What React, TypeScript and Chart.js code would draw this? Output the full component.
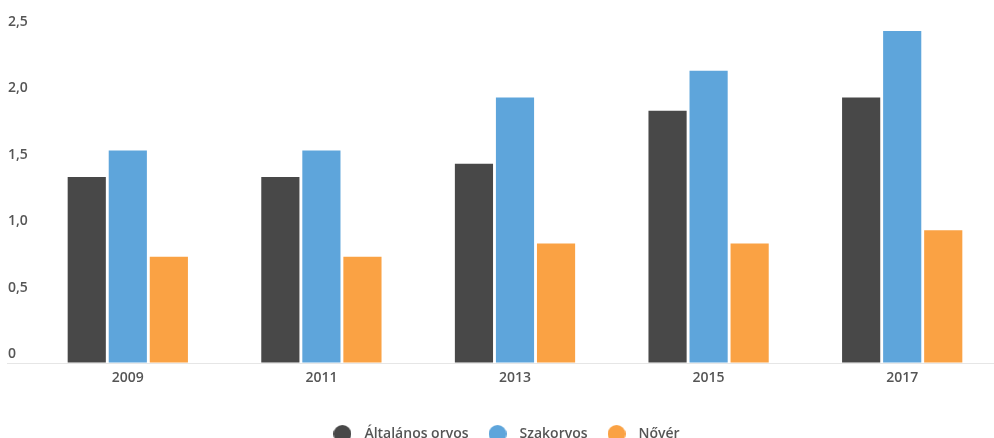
import React, { useEffect, useRef } from "react";
import { Chart, registerables } from "chart.js";

Chart.register(...registerables);

const years = ["2009", "2011", "2013", "2015", "2017"];
const generalPractitioner = [1.4, 1.4, 1.5, 1.9, 2.0];
const specialist = [1.6, 1.6, 2.0, 2.2, 2.5];
const nurse = [0.8, 0.8, 0.9, 0.9, 1.0];

const seriesNames = ["Általános orvos", "Szakorvos", "Nővér"];
const seriesColors = ["#484848", "#5ea5db", "#faa244"];

const TEXT = "#555555";
const FONT = "'Open Sans', sans-serif";

// Small round swatch used as the legend marker
function dot(color: string, size: number): HTMLCanvasElement {
  const c = document.createElement("canvas");
  c.width = size;
  c.height = size;
  const g = c.getContext("2d")!;
  g.fillStyle = color;
  g.beginPath();
  g.arc(size / 2, size / 2, size / 2, 0, Math.PI * 2);
  g.fill();
  return c;
}

export default function App() {
  const canvasRef = useRef<HTMLCanvasElement | null>(null);

  useEffect(() => {
    if (!canvasRef.current) return;
    const values = [generalPractitioner, specialist, nurse];
    const markers = seriesColors.map((c) => dot(c, 18));

    const chart = new Chart(canvasRef.current, {
      type: "bar",
      data: {
        labels: years,
        datasets: values.map((data, i) => ({
          label: seriesNames[i],
          data,
          backgroundColor: seriesColors[i],
          borderWidth: 0,
          barPercentage: 0.93,
          categoryPercentage: 0.636,
        })),
      },
      options: {
        animation: false,
        responsive: false,
        layout: { padding: { top: 31, left: 8, right: 3, bottom: 0 } },
        plugins: {
          tooltip: { enabled: false },
          legend: {
            position: "bottom",
            labels: {
              color: TEXT,
              font: { family: FONT, size: 14, weight: "600" },
              usePointStyle: true,
              pointStyleWidth: 30,
              boxHeight: 14,
              padding: 14,
              generateLabels: (ch) => {
                const items = Chart.defaults.plugins.legend.labels.generateLabels(ch);
                return items.map((it, i) => ({ ...it, pointStyle: markers[i] }));
              },
            },
          },
        },
        scales: {
          x: {
            grid: { display: false, drawTicks: false },
            border: { display: false },
            afterFit: (scale) => {
              scale.height = 50;
            },
            ticks: {
              color: TEXT,
              font: { family: FONT, size: 14, weight: "600" },
              padding: 7,
            },
          },
          y: {
            min: 0,
            max: 2.5,
            afterFit: (scale) => {
              scale.width = 23;
            },
            grid: {
              color: (ctx) => (ctx.tick && ctx.tick.value === 0 ? "#e6e6e6" : "rgba(0,0,0,0)"),
              lineWidth: 1,
              tickLength: 24,
              drawTicks: true,
            },
            border: { display: false },
            ticks: {
              stepSize: 0.5,
              crossAlign: "far",
              labelOffset: -9,
              padding: 0,
              color: TEXT,
              font: { family: FONT, size: 14, weight: "600" },
              callback: (v) => (Number(v) === 0 ? "0" : Number(v).toFixed(1).replace(".", ",")),
            },
          },
        },
      },
    });
    return () => chart.destroy();
  }, []);

  return (
    <div
      style={{
        position: "fixed",
        left: 0,
        top: 0,
        width: 994,
        height: 438,
        overflow: "hidden",
        background: "#ffffff",
      }}
    >
      <canvas ref={canvasRef} width={1002} height={451} />
    </div>
  );
}
